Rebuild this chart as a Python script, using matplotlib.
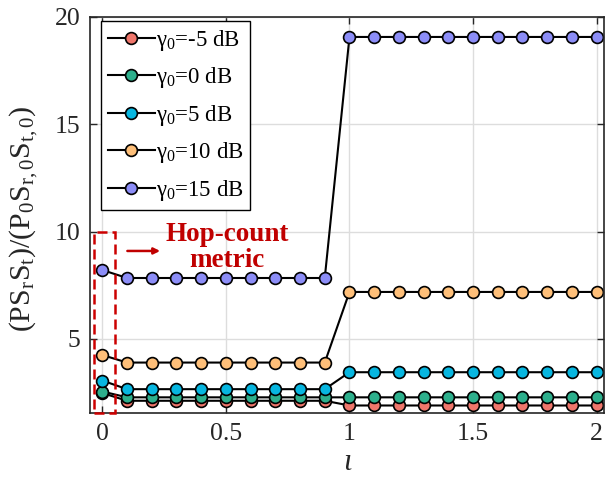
import numpy as np
import matplotlib
matplotlib.use("Agg")
import matplotlib.pyplot as plt
from matplotlib.patches import Rectangle

plt.rcParams['font.family'] = ['Liberation Serif', 'DejaVu Serif']
plt.rcParams['mathtext.fontset'] = 'custom'
plt.rcParams['mathtext.rm'] = 'Liberation Serif'
plt.rcParams['mathtext.it'] = 'Liberation Serif:italic'
plt.rcParams['mathtext.bf'] = 'Liberation Serif:bold'

iota = [0.0, 0.1, 0.2, 0.3, 0.4, 0.5, 0.6, 0.7, 0.8, 0.9,
        1.0, 1.1, 1.2, 1.3, 1.4, 1.5, 1.6, 1.7, 1.8, 1.9, 2.0]
g_m5 = [2.48] + [2.12] * 9 + [1.90] * 11
g_0 = [2.55] + [2.28] * 9 + [2.28] * 11
g_5 = [3.06] + [2.66] * 9 + [3.45] * 11
g_10 = [4.25] + [3.90] * 9 + [7.19] * 11
g_15 = [8.21] + [7.84] * 9 + [19.07] * 11

labels = [r'$\mathrm{\gamma}_0$=-5 dB', r'$\mathrm{\gamma}_0$=0 dB', r'$\mathrm{\gamma}_0$=5 dB',
          r'$\mathrm{\gamma}_0$=10 dB', r'$\mathrm{\gamma}_0$=15 dB']
colors = ['#EF766B', '#2DAF8C', '#07B6E0', '#FEBF79', '#8C8DF7']
series = [g_m5, g_0, g_5, g_10, g_15]

fig = plt.figure(figsize=(6.10, 4.79), dpi=100)
ax = fig.add_axes([90/610, 1-413/479, (604-90)/610, (413-17)/479])

for y, c, lab in zip(series, colors, labels):
    ax.plot(iota, y, '-o', color='black', lw=1.5, markersize=8.5,
            markerfacecolor=c, markeredgecolor='black', markeredgewidth=1.2, label=lab)

ax.set_xlim(-0.05, 2.03)
ax.set_ylim(1.55, 20)
ax.set_xticks([0, 0.5, 1, 1.5, 2])
ax.set_xticklabels(['0', '0.5', '1', '1.5', '2'])
ax.set_yticks([5, 10, 15, 20])
ax.tick_params(direction='in', length=5, width=1, top=True, right=True, labelsize=18.5,
               pad=7, labelcolor='#262626', color='#262626')
ax.grid(True, color='#DDDDDD', lw=1)
for s in ax.spines.values():
    s.set_linewidth(1.2)
    s.set_color('#262626')

ax.set_xlabel('ι', fontstyle='italic', fontsize=22, labelpad=2, color='#262626')
ax.set_ylabel(r'$\mathrm{(PS_rS_t)/(P_0S_{r,0}S_{t,0})}$', fontsize=21.5,
              color='#262626')
ax.yaxis.set_label_coords(-0.098, 0.49)

leg = ax.legend(loc='upper left', bbox_to_anchor=(11/514, 1 - 4/396), borderaxespad=0,
                fontsize=16.4, frameon=True, fancybox=False,
                edgecolor='black', framealpha=1,
                handlelength=2.05, labelspacing=0.55, borderpad=0.3, handletextpad=0.05)
leg.get_frame().set_linewidth(1.0)

rect = Rectangle((-0.035, 1.55), 0.088, 10 - 1.55, fill=False, edgecolor='#CC0000',
                 lw=1.8, linestyle=(0, (4, 2)), zorder=5, clip_on=False)
ax.add_patch(rect)
ax.annotate('', xy=(0.245, 9.1), xytext=(0.09, 9.1),
            arrowprops=dict(arrowstyle='-|>', color='#C00000', lw=1.8, mutation_scale=9))
ax.text(0.505, 9.28, 'Hop-count\nmetric', color='#C00000', fontsize=19.5, fontweight='bold',
        ha='center', va='center', linespacing=1.05)

fig.savefig('out.png', dpi=100)
